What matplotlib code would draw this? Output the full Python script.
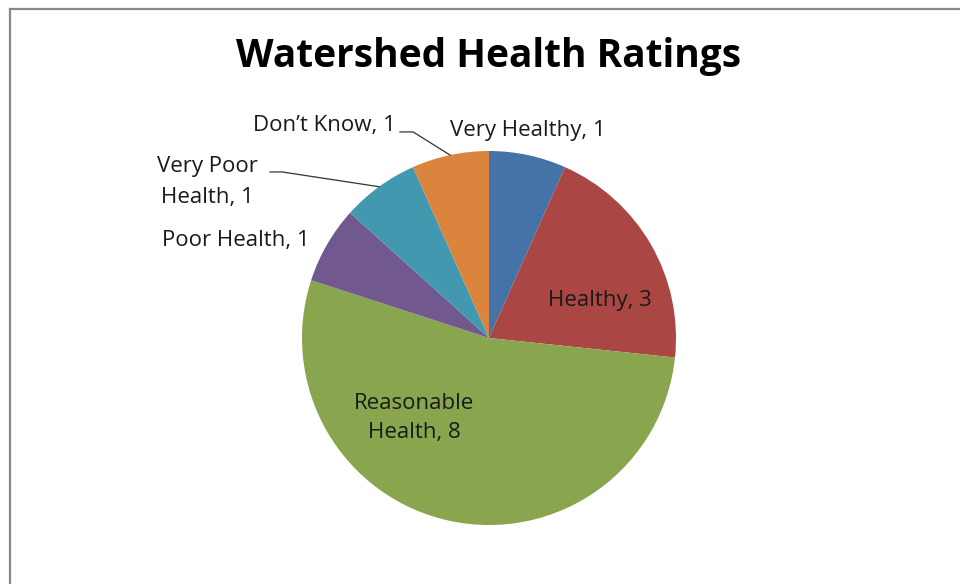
import matplotlib
matplotlib.use("Agg")
import matplotlib.pyplot as plt
import numpy as np
from matplotlib.lines import Line2D

plt.rcParams['font.family'] = ['Open Sans', 'DejaVu Sans']

# ratings and counts
categories = ["Very Healthy", "Healthy", "Reasonable\nHealth", "Poor Health",
              "Very Poor\nHealth", "Don\u2019t Know"]
counts = [1, 3, 8, 1, 1, 1]
colors = ["#4572A7", "#AA4643", "#89A54E", "#71588F", "#4198AF", "#DB843D"]

# label placement in pie units (radius 1), alignment and line spacing
label_pos = [(-0.209, 1.112, "left", 1.45), (0.594, 0.203, "center", 1.45),
             (-0.401, -0.428, "center", 1.45), (-0.957, 0.519, "right", 1.45),
             (-1.775, 0.835, "left", 1.6), (-0.497, 1.139, "right", 1.45)]
# leader lines: start of short horizontal stub for the labels that have one
leaders = {5: (-0.476, -0.406, 1.102), 4: (-1.171, -1.107, 0.888)}

fig = plt.figure(figsize=(9.6, 5.84), dpi=100)
W, H = 960, 584
cx, cy, r = 489, 338, 187
ax = fig.add_axes([(cx - r) / W, (H - cy - r) / H, 2 * r / W, 2 * r / H])

wedges, _ = ax.pie(counts, colors=colors, startangle=90, counterclock=False,
                   radius=1, wedgeprops=dict(linewidth=0, antialiased=True))
ax.set_xlim(-1, 1)
ax.set_ylim(-1, 1)
ax.set_aspect("equal")
ax.axis("off")

for i, (cat, n) in enumerate(zip(categories, counts)):
    x, y, ha, ls = label_pos[i]
    ax.text(x, y, f"{cat}, {n}", ha=ha, va="center", fontsize=16,
            color="#1a1a1a", linespacing=ls, multialignment="center")
    if i in leaders:
        x0, x1, yl = leaders[i]
        w = wedges[i]
        mid = np.deg2rad((w.theta1 + w.theta2) / 2)
        ex, ey = np.cos(mid), np.sin(mid)
        ax.plot([x0, x1, ex], [yl, yl, ey], color="#333333", lw=0.9, clip_on=False)

fig.text(489 / W, 1 - 67 / H, "Watershed Health Ratings", ha="center", va="baseline",
         fontsize=28, fontweight="bold", color="black")

# chart area border (left and top edges visible)
fig.add_artist(Line2D([9.5 / W, 9.5 / W], [0, 1 - 8.5 / H], transform=fig.transFigure,
                      color="#878787", lw=1.6))
fig.add_artist(Line2D([9.5 / W, 1], [1 - 8.5 / H, 1 - 8.5 / H], transform=fig.transFigure,
                      color="#878787", lw=1.6))

fig.savefig("out.png", dpi=100, facecolor="white")
